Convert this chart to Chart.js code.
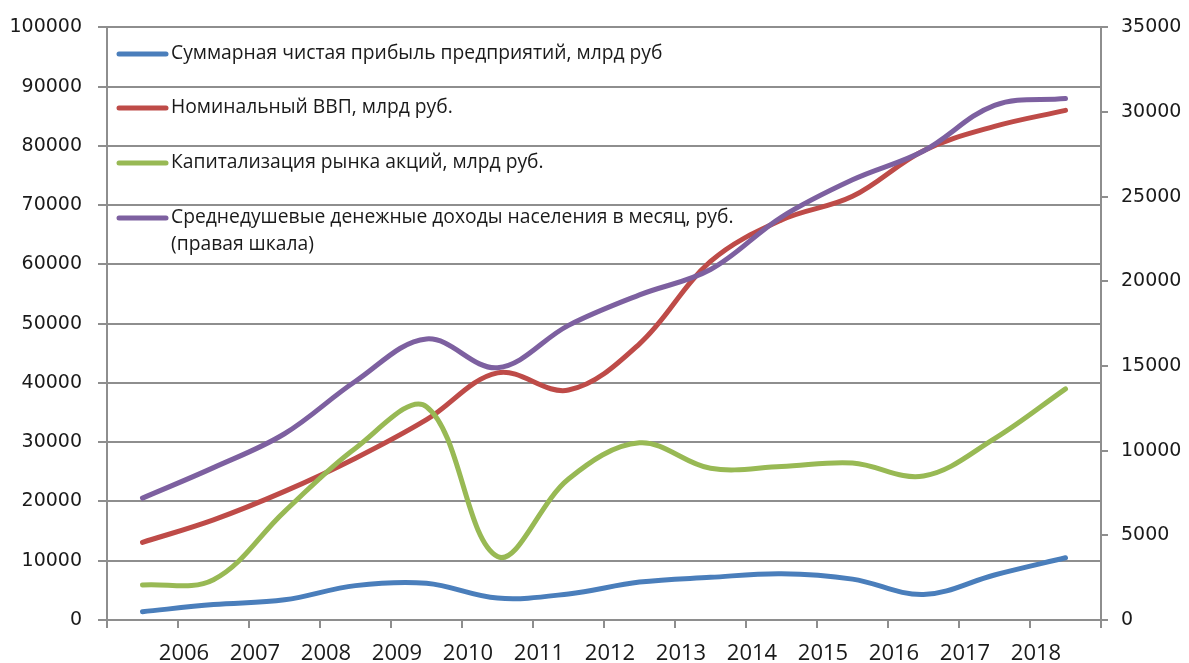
<!DOCTYPE html>
<html>
<head>
<meta charset="utf-8">
<script src="https://cdn.jsdelivr.net/npm/chart.js@4.4.1/dist/chart.umd.min.js"></script>
<style>
html, body { margin: 0; padding: 0; background: #fff; }
</style>
</head>
<body>
<canvas id="chart" width="1189" height="663"></canvas>
<script>
// data points (one per year, the x labels are drawn on the tick marks between them)
var categories = ['2005', '2006', '2007', '2008', '2009', '2010', '2011', '2012', '2013', '2014', '2015', '2016', '2017', '2018'];
var tickYears = ['2006', '2007', '2008', '2009', '2010', '2011', '2012', '2013', '2014', '2015', '2016', '2017', '2018'];

var profit = [1400, 2600, 3400, 5800, 6200, 3700, 4400, 6400, 7200, 7800, 6900, 4300, 7600, 10500];
var gdp = [13100, 16900, 21700, 27300, 33800, 41700, 38800, 46600, 60500, 67500, 71500, 79200, 83300, 86000];
var capitalization = [5900, 6800, 18300, 29000, 36000, 10700, 23800, 29900, 25600, 25900, 26500, 24300, 30600, 39000];
var income = [7200, 9000, 11000, 14100, 16600, 14900, 17400, 19200, 20700, 23800, 26000, 27700, 30400, 30800];

var seriesNames = [
    'Суммарная чистая прибыль предприятий, млрд руб',
    'Номинальный ВВП, млрд руб.',
    'Капитализация рынка акций, млрд руб.',
    'Среднедушевые денежные доходы населения в месяц, руб.\n(правая шкала)'
];
var seriesColors = ['#4a7ebb', '#be4b48', '#98b954', '#7d60a0'];

var gridColor = '#8e8e8e';
var textColor = '#1a1a1a';

// legend drawn inside the plot, top left
var insideLegend = {
    id: 'insideLegend',
    afterDraw: function(chart) {
        var ctx = chart.ctx;
        var rowY = [54, 108, 163, 218];
        ctx.save();
        ctx.font = '19.3px "Open Sans"';
        ctx.textBaseline = 'middle';
        ctx.textAlign = 'left';
        chart.data.datasets.forEach(function(ds, i) {
            var y = rowY[i];
            ctx.strokeStyle = ds.borderColor;
            ctx.lineWidth = 5;
            ctx.lineCap = 'round';
            ctx.beginPath();
            ctx.moveTo(119, y);
            ctx.lineTo(166, y);
            ctx.stroke();
            ctx.fillStyle = textColor;
            ds.label.split('\n').forEach(function(line, k) {
                ctx.fillText(line, 171, y + k * 27);
            });
        });
        ctx.restore();
    }
};

function makeSeries(i, values, axis, order) {
    return {
        label: seriesNames[i],
        data: values,
        yAxisID: axis,
        borderColor: seriesColors[i],
        backgroundColor: seriesColors[i],
        borderWidth: 5,
        borderCapStyle: 'round',
        pointRadius: 0,
        tension: 0.36,
        fill: false,
        order: order
    };
}

function plainNumber(v) { return String(v); }

var ctx = document.getElementById('chart').getContext('2d');
var chart = new Chart(ctx, {
    type: 'line',
    data: {
        labels: categories,
        datasets: [
            makeSeries(0, profit, 'y', 3),
            makeSeries(1, gdp, 'y', 2),
            makeSeries(2, capitalization, 'y', 1),
            makeSeries(3, income, 'y1', 0)
        ]
    },
    options: {
        responsive: false,
        animation: false,
        layout: {
            padding: { left: 0, right: 0, top: 25, bottom: 0 }
        },
        plugins: {
            legend: { display: false },
            tooltip: { enabled: false }
        },
        scales: {
            x: {
                type: 'category',
                display: false,
                offset: true
            },
            xYears: {
                type: 'linear',
                position: 'bottom',
                min: 0,
                max: categories.length,
                offset: false,
                afterFit: function(scale) { scale.height = 43; },
                grid: {
                    drawOnChartArea: false,
                    color: gridColor,
                    lineWidth: 2,
                    tickLength: 8
                },
                border: { color: gridColor, width: 2 },
                ticks: {
                    stepSize: 1,
                    maxTicksLimit: 30,
                    autoSkip: false,
                    maxRotation: 0,
                    padding: 13,
                    labelOffset: 6,
                    color: textColor,
                    font: { family: '"Open Sans"', size: 22 },
                    callback: function(v) { return tickYears[v - 1] || ''; }
                }
            },
            y: {
                position: 'left',
                min: 0,
                max: 100000,
                afterFit: function(scale) { scale.width = 107; },
                grid: {
                    color: gridColor,
                    lineWidth: 2,
                    tickLength: 9
                },
                border: { color: gridColor, width: 2 },
                ticks: {
                    stepSize: 10000,
                    padding: 16,
                    color: textColor,
                    font: { family: '"DejaVu Sans"', size: 19 },
                    callback: plainNumber
                }
            },
            y1: {
                position: 'right',
                min: 0,
                max: 35000,
                afterFit: function(scale) { scale.width = 88; },
                grid: {
                    drawOnChartArea: false,
                    color: gridColor,
                    lineWidth: 2,
                    tickLength: 7
                },
                border: { color: gridColor, width: 2 },
                ticks: {
                    stepSize: 5000,
                    padding: 13,
                    color: textColor,
                    font: { family: '"DejaVu Sans"', size: 19 },
                    callback: plainNumber
                }
            }
        }
    },
    plugins: [insideLegend]
});
</script>
</body>
</html>
